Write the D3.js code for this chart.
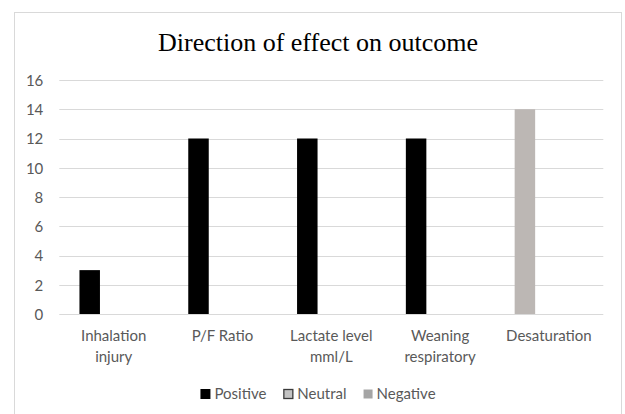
<!DOCTYPE html>
<html>
<head>
<meta charset="utf-8">
<script src="https://cdn.jsdelivr.net/npm/d3@7"></script>
<style>
  html, body { margin: 0; padding: 0; background: #ffffff; }
  svg { display: block; }
</style>
</head>
<body>
<svg id="chart" width="625" height="414"></svg>
<script>
// Chart data
const categories = ["Inhalation\ninjury", "P/F Ratio", "Lactate level\nmml/L", "Weaning\nrespiratory", "Desaturation"];
const seriesNames = ["Positive", "Neutral", "Negative"];
const positive = [3, 12, 12, 12, 14];
const neutral = [0, 0, 0, 0, 0];
const negative = [0, 0, 0, 0, 0];
const yTicks = [0, 2, 4, 6, 8, 10, 12, 14, 16];

// Styling
const seriesFill = { Positive: "#000000", Neutral: "#c3c3c3", Negative: "#a5a5a5" };
const seriesStroke = { Positive: "none", Neutral: "#3a3a3a", Negative: "none" };
const pointFill = { Positive: { 4: "#bcb7b4" } }; // Desaturation bar shaded separately
const labelFont = "Lato, 'Noto Sans', sans-serif";
const textColor = "#595959";

const svg = d3.select("#chart");
const W = 625, H = 414;

// chart area frame
svg.append("rect")
  .attr("x", 14.5).attr("y", 12.5)
  .attr("width", 607).attr("height", 420)
  .attr("fill", "#ffffff").attr("stroke", "#d9d9d9").attr("stroke-width", 1);

const plot = { left: 59.3, right: 603.3, top: 80, bottom: 314 };

// title
svg.append("text")
  .attr("x", 318).attr("y", 50.5)
  .attr("text-anchor", "middle")
  .attr("font-family", "'Liberation Serif', 'Times New Roman', serif")
  .attr("font-size", 26)
  .attr("fill", "#000000")
  .text("Direction of effect on outcome");

const y = d3.scaleLinear().domain([0, 16]).range([plot.bottom, plot.top]);
const x0 = d3.scaleBand().domain(categories).range([plot.left, plot.right]).paddingInner(0).paddingOuter(0);
const x1 = d3.scaleBand().domain(seriesNames).range([0, x0.bandwidth()]).paddingInner(0.146).paddingOuter(0.84);

// gridlines
svg.append("g")
  .selectAll("line")
  .data(yTicks)
  .join("line")
  .attr("x1", plot.left).attr("x2", plot.right)
  .attr("y1", d => Math.round(y(d)) + 0.5).attr("y2", d => Math.round(y(d)) + 0.5)
  .attr("stroke", "#d9d9d9").attr("stroke-width", 1);

// y axis labels
const yAxis = d3.axisLeft(y).tickValues(yTicks).tickSize(0).tickPadding(0);
const yg = svg.append("g").attr("transform", `translate(${plot.left - 16},0)`).call(yAxis);
yg.select(".domain").remove();
yg.selectAll("text")
  .attr("font-family", labelFont).attr("font-size", 15)
  .attr("fill", textColor).attr("dy", "0.35em");

// bars
const seriesData = { Positive: positive, Neutral: neutral, Negative: negative };
const barGroups = svg.append("g");
seriesNames.forEach(name => {
  barGroups.append("g")
    .selectAll("rect")
    .data(seriesData[name].map((v, i) => ({ v, i })).filter(d => d.v > 0))
    .join("rect")
    .attr("x", d => x0(categories[d.i]) + x1(name))
    .attr("width", x1.bandwidth())
    .attr("y", d => y(d.v))
    .attr("height", d => y(0) - y(d.v))
    .attr("fill", d => (pointFill[name] && pointFill[name][d.i]) || seriesFill[name]);
});

// category labels
const xAxis = svg.append("g");
categories.forEach(c => {
  const t = xAxis.append("text")
    .attr("x", x0(c) + x0.bandwidth() / 2)
    .attr("y", 341)
    .attr("text-anchor", "middle")
    .attr("font-family", labelFont).attr("font-size", 15)
    .attr("fill", textColor);
  c.split("\n").forEach((line, k) => {
    t.append("tspan")
      .attr("x", x0(c) + x0.bandwidth() / 2)
      .attr("dy", k === 0 ? 0 : 21)
      .text(line);
  });
});

// legend
const legend = svg.append("g");
let cursor = 0;
const items = [];
seriesNames.forEach(name => {
  const g = legend.append("g").attr("transform", `translate(${cursor},0)`);
  const size = name === "Negative" ? 9 : 10;
  g.append("rect")
    .attr("x", name === "Neutral" ? 0.5 : 0).attr("y", -size / 2 + (name === "Neutral" ? 0.5 : 0))
    .attr("width", name === "Neutral" ? size - 1 : size)
    .attr("height", name === "Neutral" ? size - 1 : size)
    .attr("fill", seriesFill[name])
    .attr("stroke", seriesStroke[name]).attr("stroke-width", 1.3);
  const txt = g.append("text")
    .attr("x", size + 4).attr("y", 5)
    .attr("font-family", labelFont).attr("font-size", 15)
    .attr("fill", textColor)
    .text(name);
  const w = size + 4 + txt.node().getComputedTextLength();
  cursor += w + 17;
  items.push(w);
});
const legendWidth = cursor - 17;
legend.attr("transform", `translate(${318 - legendWidth / 2},394)`);
</script>
</body>
</html>
